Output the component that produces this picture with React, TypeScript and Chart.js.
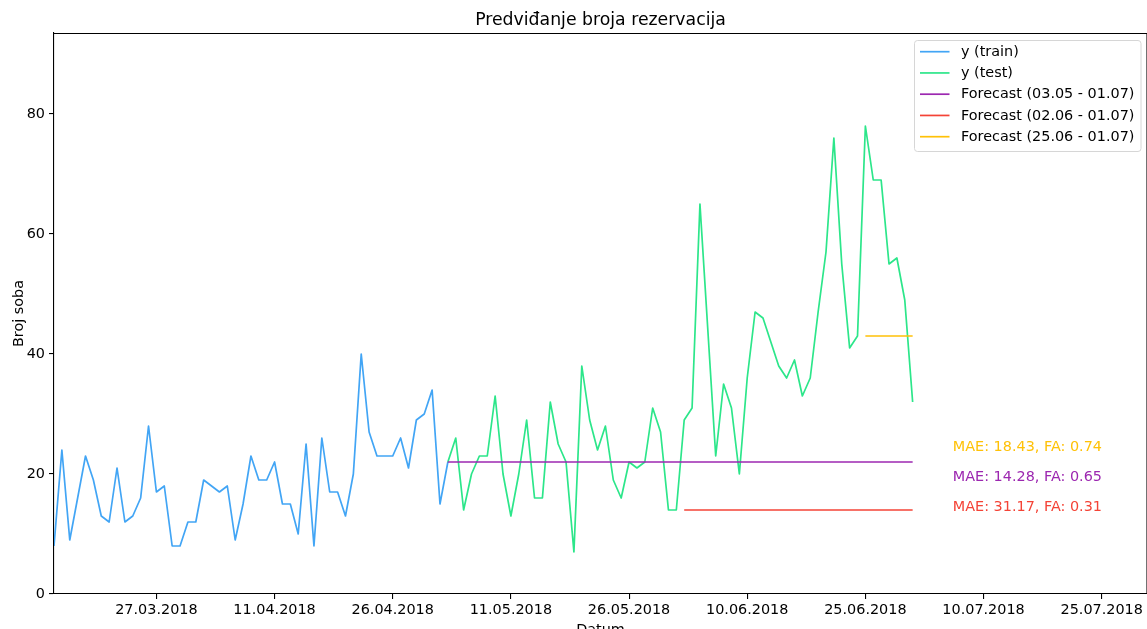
import React, { useEffect, useRef } from "react";
import { Chart, registerables } from "chart.js";

Chart.register(...registerables);

// ---- data -------------------------------------------------------------
const startDate = "14.03.2018"; // first day of y (train)

// y (train): 14.03.2018 – 03.05.2018
const trainValues = [
  8, 24, 9, 16, 23, 19, 13, 12, 21, 12, 13, 16, 28, 17, 18, 8, 8, 12, 12, 19,
  18, 17, 18, 9, 15, 23, 19, 19, 22, 15, 15, 10, 25, 8, 26, 17, 17, 13, 20, 40,
  27, 23, 23, 23, 26, 21, 29, 30, 34, 15, 22,
];

// y (test): 03.05.2018 – 01.07.2018
const testStart = "03.05.2018";
const testValues = [
  22, 26, 14, 20, 23, 23, 33, 20, 13, 20, 29, 16, 16, 32, 25, 22, 7, 38, 29, 24,
  28, 19, 16, 22, 21, 22, 31, 27, 14, 14, 29, 31, 65, 44, 23, 35, 31, 20, 36, 47,
  46, 42, 38, 36, 39, 33, 36, 47, 57, 76, 55, 41, 43, 78, 69, 69, 55, 56, 49, 32,
];

// forecasts (constant level over the forecast window)
const forecastLabels = [
  "Forecast (03.05 - 01.07)",
  "Forecast (02.06 - 01.07)",
  "Forecast (25.06 - 01.07)",
];
const forecastStarts = ["03.05.2018", "02.06.2018", "25.06.2018"];
const forecastEnds = ["01.07.2018", "01.07.2018", "01.07.2018"];
const forecastLevels = [22, 14, 43];
const forecastMetrics = [
  "MAE: 14.28, FA: 0.65",
  "MAE: 31.17, FA: 0.31",
  "MAE: 18.43, FA: 0.74",
];

const xTickLabels = [
  "27.03.2018",
  "11.04.2018",
  "26.04.2018",
  "11.05.2018",
  "26.05.2018",
  "10.06.2018",
  "25.06.2018",
  "10.07.2018",
  "25.07.2018",
];
const yTickValues = [0, 20, 40, 60, 80];

// ---- helpers ----------------------------------------------------------
const toUTC = (s: string) => {
  const [d, m, y] = s.split(".").map(Number);
  return Date.UTC(y, m - 1, d);
};
const dayIndex = (s: string) => Math.round((toUTC(s) - toUTC(startDate)) / 86400000);
const fmtDay = (i: number) => {
  const d = new Date(toUTC(startDate) + i * 86400000);
  const p = (n: number) => String(n).padStart(2, "0");
  return `${p(d.getUTCDate())}.${p(d.getUTCMonth() + 1)}.${d.getUTCFullYear()}`;
};

const COLORS = {
  train: "#42a5f5",
  test: "#2ce68a",
  forecast: ["#9c27b0", "#f44336", "#ffc107"],
};
const FONT = '"DejaVu Sans", sans-serif';
const LW = 1.7;

const X_MIN = 0;
const X_MAX = 138.75;
const Y_MIN = 0;
const Y_MAX = 93.5;

// annotation positions (data coordinates)
const metricPos = [
  { x: 114.1, y: 19.5 },
  { x: 114.1, y: 14.5 },
  { x: 114.1, y: 24.45 },
];

const overlayPlugin = {
  id: "overlay",
  afterDraw(chart: any) {
    const { ctx, chartArea: a, scales } = chart;
    ctx.save();
    // top / right frame
    ctx.strokeStyle = "#000";
    ctx.lineWidth = 1.1;
    ctx.beginPath();
    ctx.moveTo(a.left, Math.round(a.top) + 0.5);
    ctx.lineTo(a.right, Math.round(a.top) + 0.5);
    ctx.lineTo(a.right, a.bottom);
    ctx.stroke();

    // title
    ctx.fillStyle = "#000";
    ctx.font = `17.3px ${FONT}`;
    ctx.textAlign = "center";
    ctx.textBaseline = "middle";
    ctx.fillText("Predviđanje broja rezervacija", (a.left + a.right) / 2, 21);

    // axis titles
    ctx.font = `14.4px ${FONT}`;
    ctx.textBaseline = "alphabetic";
    ctx.fillText("Datum", (a.left + a.right) / 2, 634);
    ctx.save();
    ctx.translate(23, (a.top + a.bottom) / 2);
    ctx.rotate(-Math.PI / 2);
    ctx.fillText("Broj soba", 0, 0);
    ctx.restore();

    // metrics annotations
    ctx.textAlign = "left";
    ctx.textBaseline = "middle";
    forecastMetrics.forEach((t, i) => {
      ctx.fillStyle = COLORS.forecast[i];
      ctx.fillText(
        t,
        scales.x.getPixelForValue(metricPos[i].x),
        scales.y.getPixelForValue(metricPos[i].y)
      );
    });

    // legend
    const bx = 914.5, by = 40.5, bw = 226.5, bh = 111, r = 3;
    ctx.beginPath();
    ctx.moveTo(bx + r, by);
    ctx.lineTo(bx + bw - r, by);
    ctx.quadraticCurveTo(bx + bw, by, bx + bw, by + r);
    ctx.lineTo(bx + bw, by + bh - r);
    ctx.quadraticCurveTo(bx + bw, by + bh, bx + bw - r, by + bh);
    ctx.lineTo(bx + r, by + bh);
    ctx.quadraticCurveTo(bx, by + bh, bx, by + bh - r);
    ctx.lineTo(bx, by + r);
    ctx.quadraticCurveTo(bx, by, bx + r, by);
    ctx.closePath();
    ctx.fillStyle = "rgba(255,255,255,0.8)";
    ctx.fill();
    ctx.strokeStyle = "#d6d6d6";
    ctx.lineWidth = 1;
    ctx.stroke();

    chart.data.datasets.forEach((ds: any, i: number) => {
      const y = 51.7 + i * 21.25;
      ctx.strokeStyle = ds.borderColor;
      ctx.lineWidth = LW;
      ctx.beginPath();
      ctx.moveTo(920, y);
      ctx.lineTo(949.5, y);
      ctx.stroke();
      ctx.fillStyle = "#000";
      ctx.font = `14.4px ${FONT}`;
      ctx.textAlign = "left";
      ctx.textBaseline = "middle";
      ctx.fillText(ds.label, 961, y + 0.5);
    });
    ctx.restore();
  },
};

export default function App() {
  const ref = useRef<HTMLCanvasElement | null>(null);

  useEffect(() => {
    if (!ref.current) return;
    const trainPts = trainValues.map((v, i) => ({ x: i, y: v }));
    const t0 = dayIndex(testStart);
    const testPts = testValues.map((v, i) => ({ x: t0 + i, y: v }));
    const fcDatasets = forecastLabels.map((label, k) => {
      const s = dayIndex(forecastStarts[k]);
      const e = dayIndex(forecastEnds[k]);
      const pts = [] as { x: number; y: number }[];
      for (let d = s; d <= e; d++) pts.push({ x: d, y: forecastLevels[k] });
      return {
        label,
        data: pts,
        borderColor: COLORS.forecast[k],
        backgroundColor: COLORS.forecast[k],
        borderWidth: LW,
        pointRadius: 0,
        fill: false,
        tension: 0,
        order: 3 - k,
      };
    });

    const chart = new Chart(ref.current, {
      type: "line",
      data: {
        datasets: [
          {
            label: "y (train)",
            data: trainPts,
            borderColor: COLORS.train,
            backgroundColor: COLORS.train,
            borderWidth: LW,
            pointRadius: 0,
            fill: false,
            tension: 0,
            order: 5,
          },
          {
            label: "y (test)",
            data: testPts,
            borderColor: COLORS.test,
            backgroundColor: COLORS.test,
            borderWidth: LW,
            pointRadius: 0,
            fill: false,
            tension: 0,
            order: 4,
          },
          ...fcDatasets,
        ],
      },
      options: {
        animation: false,
        responsive: false,
        devicePixelRatio: 1,
        layout: { padding: { top: 33, left: 0, right: 0, bottom: 0 }, autoPadding: false },
        plugins: {
          legend: { display: false },
          title: { display: false },
          tooltip: { enabled: false },
        },
        elements: { line: { borderJoinStyle: "round", borderCapStyle: "butt" } },
        scales: {
          x: {
            type: "linear",
            min: X_MIN,
            max: X_MAX,
            afterFit: (s: any) => {
              s.height = 35;
            },
            afterBuildTicks: (s: any) => {
              s.ticks = xTickLabels.map((l) => ({ value: dayIndex(l) }));
            },
            ticks: {
              callback: (v: any) => fmtDay(Number(v)),
              color: "#000",
              font: { family: FONT, size: 14.4 },
              padding: 3,
              maxRotation: 0,
              autoSkip: false,
            },
            grid: {
              display: true,
              drawOnChartArea: false,
              drawTicks: true,
              tickLength: 5,
              color: "#000",
              lineWidth: 1.1,
            },
            border: { display: true, color: "#000", width: 1.1 },
          },
          y: {
            type: "linear",
            min: Y_MIN,
            max: Y_MAX,
            afterFit: (s: any) => {
              s.width = 54;
            },
            afterBuildTicks: (s: any) => {
              s.ticks = yTickValues.map((v) => ({ value: v }));
            },
            ticks: {
              color: "#000",
              font: { family: FONT, size: 14.4 },
              padding: 4,
            },
            grid: {
              display: true,
              drawOnChartArea: false,
              drawTicks: true,
              tickLength: 5,
              color: "#000",
              lineWidth: 1.1,
            },
            border: { display: true, color: "#000", width: 1.1 },
          },
        },
      },
      plugins: [overlayPlugin],
    } as any);
    return () => chart.destroy();
  }, []);

  return (
    <div style={{ position: "fixed", left: 0, top: 0, width: 1147, height: 629, background: "#fff" }}>
      <canvas ref={ref} width={1147} height={629} style={{ display: "block" }} />
    </div>
  );
}
